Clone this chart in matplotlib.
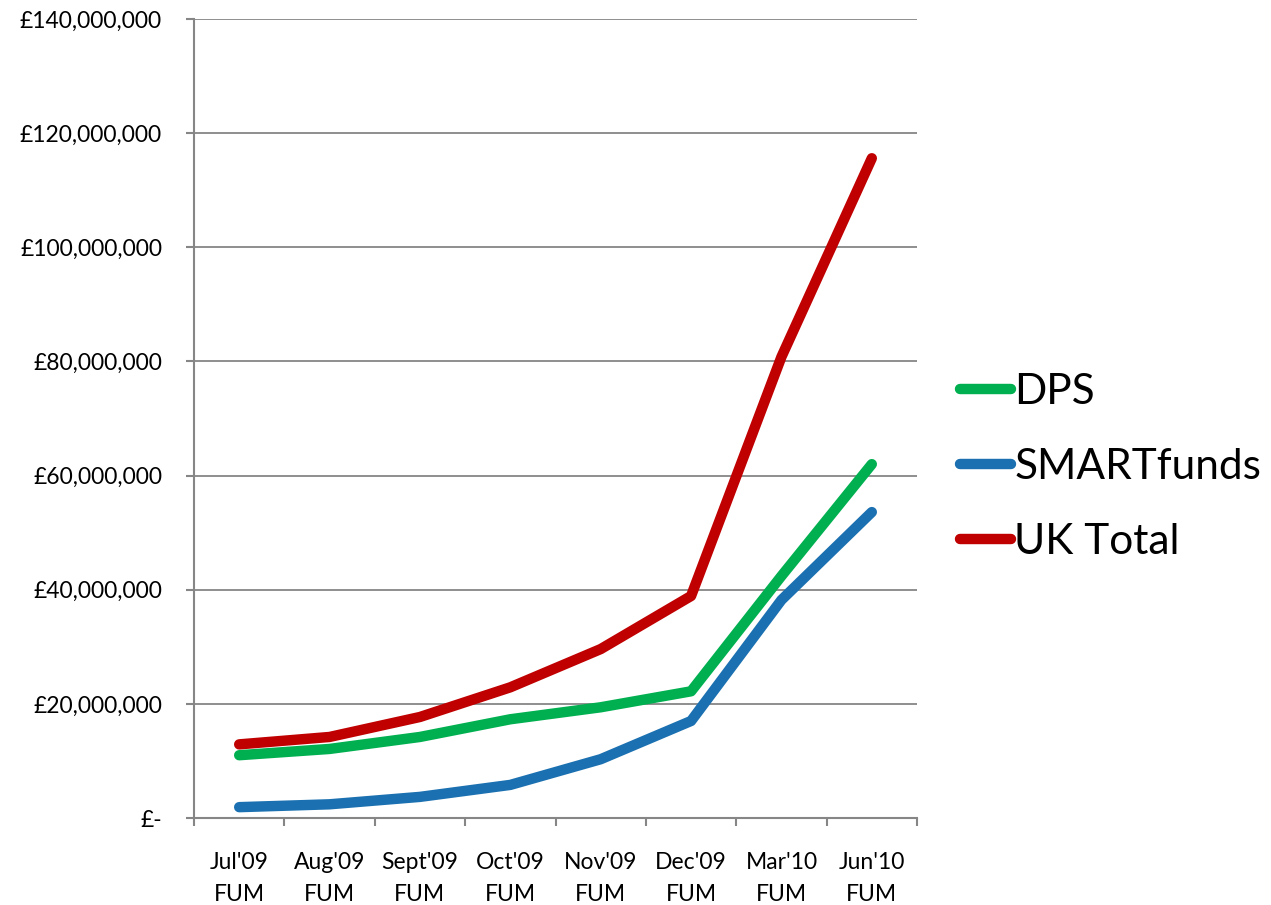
import matplotlib
matplotlib.use("Agg")
import matplotlib.pyplot as plt
from matplotlib.ticker import FuncFormatter, FixedLocator

categories = ["Jul'09\nFUM", "Aug'09\nFUM", "Sept'09\nFUM", "Oct'09\nFUM",
              "Nov'09\nFUM", "Dec'09\nFUM", "Mar'10\nFUM", "Jun'10\nFUM"]
dps = [11.0e6, 12.1e6, 14.2e6, 17.3e6, 19.4e6, 22.2e6, 42.4e6, 62.0e6]
smartfunds = [1.9e6, 2.4e6, 3.7e6, 5.8e6, 10.3e6, 17.0e6, 38.2e6, 53.6e6]
uk_total = [12.9e6, 14.2e6, 17.7e6, 22.9e6, 29.6e6, 38.9e6, 80.8e6, 115.6e6]

plt.rcParams['font.family'] = ['Lato', 'DejaVu Sans']

fig = plt.figure(figsize=(12.71, 9.05), dpi=100)
ax = fig.add_axes([194/1271, 1-818/905, (917-194)/1271, (818-19)/905])

x = list(range(len(categories)))
lw = 7.5
l1, = ax.plot(x, dps, color='#00B050', lw=lw, solid_capstyle='round', solid_joinstyle='round', label='DPS', zorder=3)
l2, = ax.plot(x, smartfunds, color='#1A70B0', lw=lw, solid_capstyle='round', solid_joinstyle='round', label='SMARTfunds', zorder=3)
l3, = ax.plot(x, uk_total, color='#C00000', lw=lw, solid_capstyle='round', solid_joinstyle='round', label='UK Total', zorder=3)

ax.set_xlim(-0.5, len(categories) - 0.5)
ax.set_ylim(0, 140e6)
ax.set_yticks([i * 20e6 for i in range(8)])

def fmt(v, pos):
    if v == 0:
        return '£-'
    return '£{:,.0f}'.format(v)
ax.yaxis.set_major_formatter(FuncFormatter(fmt))

ax.set_xticks(x)
ax.set_xticklabels(categories, fontsize=16.5, linespacing=1.65)
ax.xaxis.set_minor_locator(FixedLocator([i - 0.5 for i in range(len(categories) + 1)]))
ax.tick_params(axis='x', which='major', length=0, pad=24.5)
ax.tick_params(axis='x', which='minor', length=6, width=1.5, color='#868686', direction='out')
ax.tick_params(axis='y', length=6, width=1.5, color='#868686', labelsize=16.5, pad=17)

ax.grid(axis='y', color='#868686', lw=1.3)
ax.set_axisbelow(True)
for s in ['top', 'right']:
    ax.spines[s].set_visible(False)
for s in ['left', 'bottom']:
    ax.spines[s].set_color('#868686')
    ax.spines[s].set_linewidth(1.5)

fig.legend(handles=[l1, l2, l3], loc='center left', bbox_to_anchor=(943/1271, 1-467/905),
           frameon=False, fontsize=30.5, handlelength=1.2, handletextpad=0.08,
           labelspacing=0.88, borderaxespad=0)

fig.savefig('out.png', dpi=100)
